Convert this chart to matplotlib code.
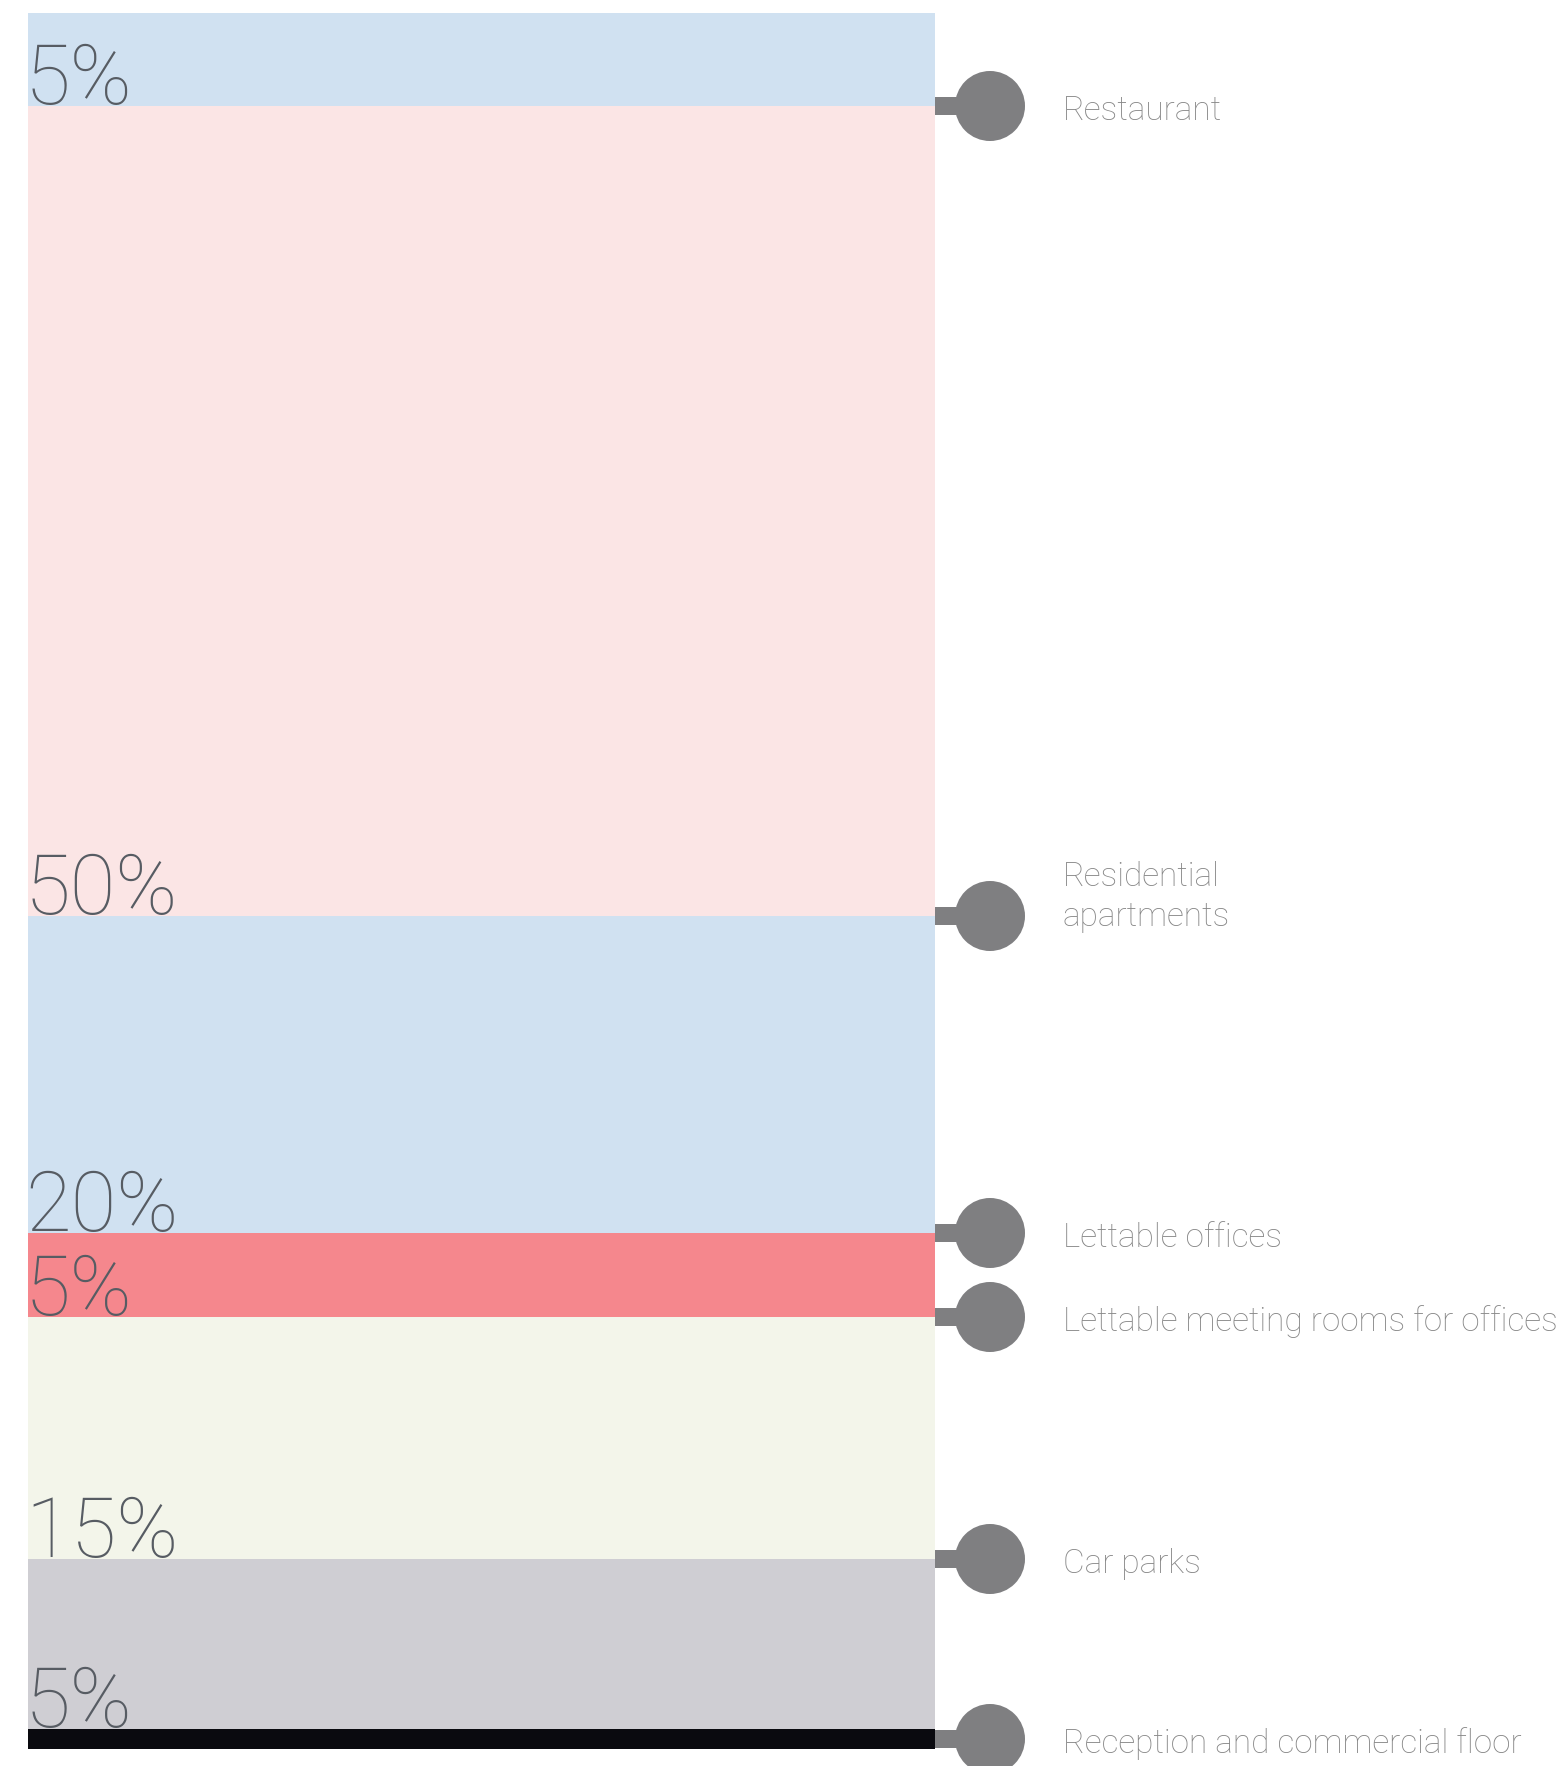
import matplotlib.pyplot as plt
from matplotlib.patches import Circle, Rectangle

# floors, top to bottom
floors = ["Restaurant", "Residential\napartments", "Lettable offices",
          "Lettable meeting rooms for offices", "Car parks",
          "Reception and commercial floor"]
shares = [5, 50, 20, 5, 15, 5]
# drawn band heights (px), top to bottom
band_heights = [93, 810, 317, 84, 242, 170]
band_colors = ["#d0e1f1", "#fbe5e5", "#d0e1f1", "#f5878d", "#f3f5ea", "#cfced3"]
base_height = 20          # black ground slab at the bottom
base_color = "#0a0a0f"

W, H = 1566, 1766
fig = plt.figure(figsize=(W / 100, H / 100), dpi=100)
ax = fig.add_axes([0, 0, 1, 1])
ax.set_xlim(0, W)
ax.set_ylim(H, 0)
ax.axis("off")

bar_left, bar_width, top = 28, 907, 13
pct_color = "#575c63"
lab_color = "#878787"
dot_color = "#7f7f81"

y = top
marker_y = []
for name, pct, h, c in zip(floors, shares, band_heights, band_colors):
    ax.bar(bar_left, h, bottom=y, width=bar_width, align="edge", color=c, linewidth=0)
    ax.text(bar_left - 3, y + h - 2, f"{pct}%", fontsize=60, color=pct_color,
            family="Roboto", fontweight="light", va="baseline", ha="left")
    marker_y.append(y + h)
    y += h
ax.bar(bar_left, base_height, bottom=y, width=bar_width, align="edge",
       color=base_color, linewidth=0)
marker_y[-1] = y + base_height / 2

for name, my in zip(floors, marker_y):
    ax.add_patch(Rectangle((bar_left + bar_width, my - 9), 28, 18, color=dot_color, lw=0))
    ax.add_patch(Circle((990, my), 35, color=dot_color, lw=0))
    ty = my + 5 if "\n" not in name else my - 19
    ax.text(1063, ty, name, fontsize=24, color=lab_color, family="Roboto",
            fontweight="light", va="center", ha="left", linespacing=1.3)

fig.savefig("out.png", dpi=100)
